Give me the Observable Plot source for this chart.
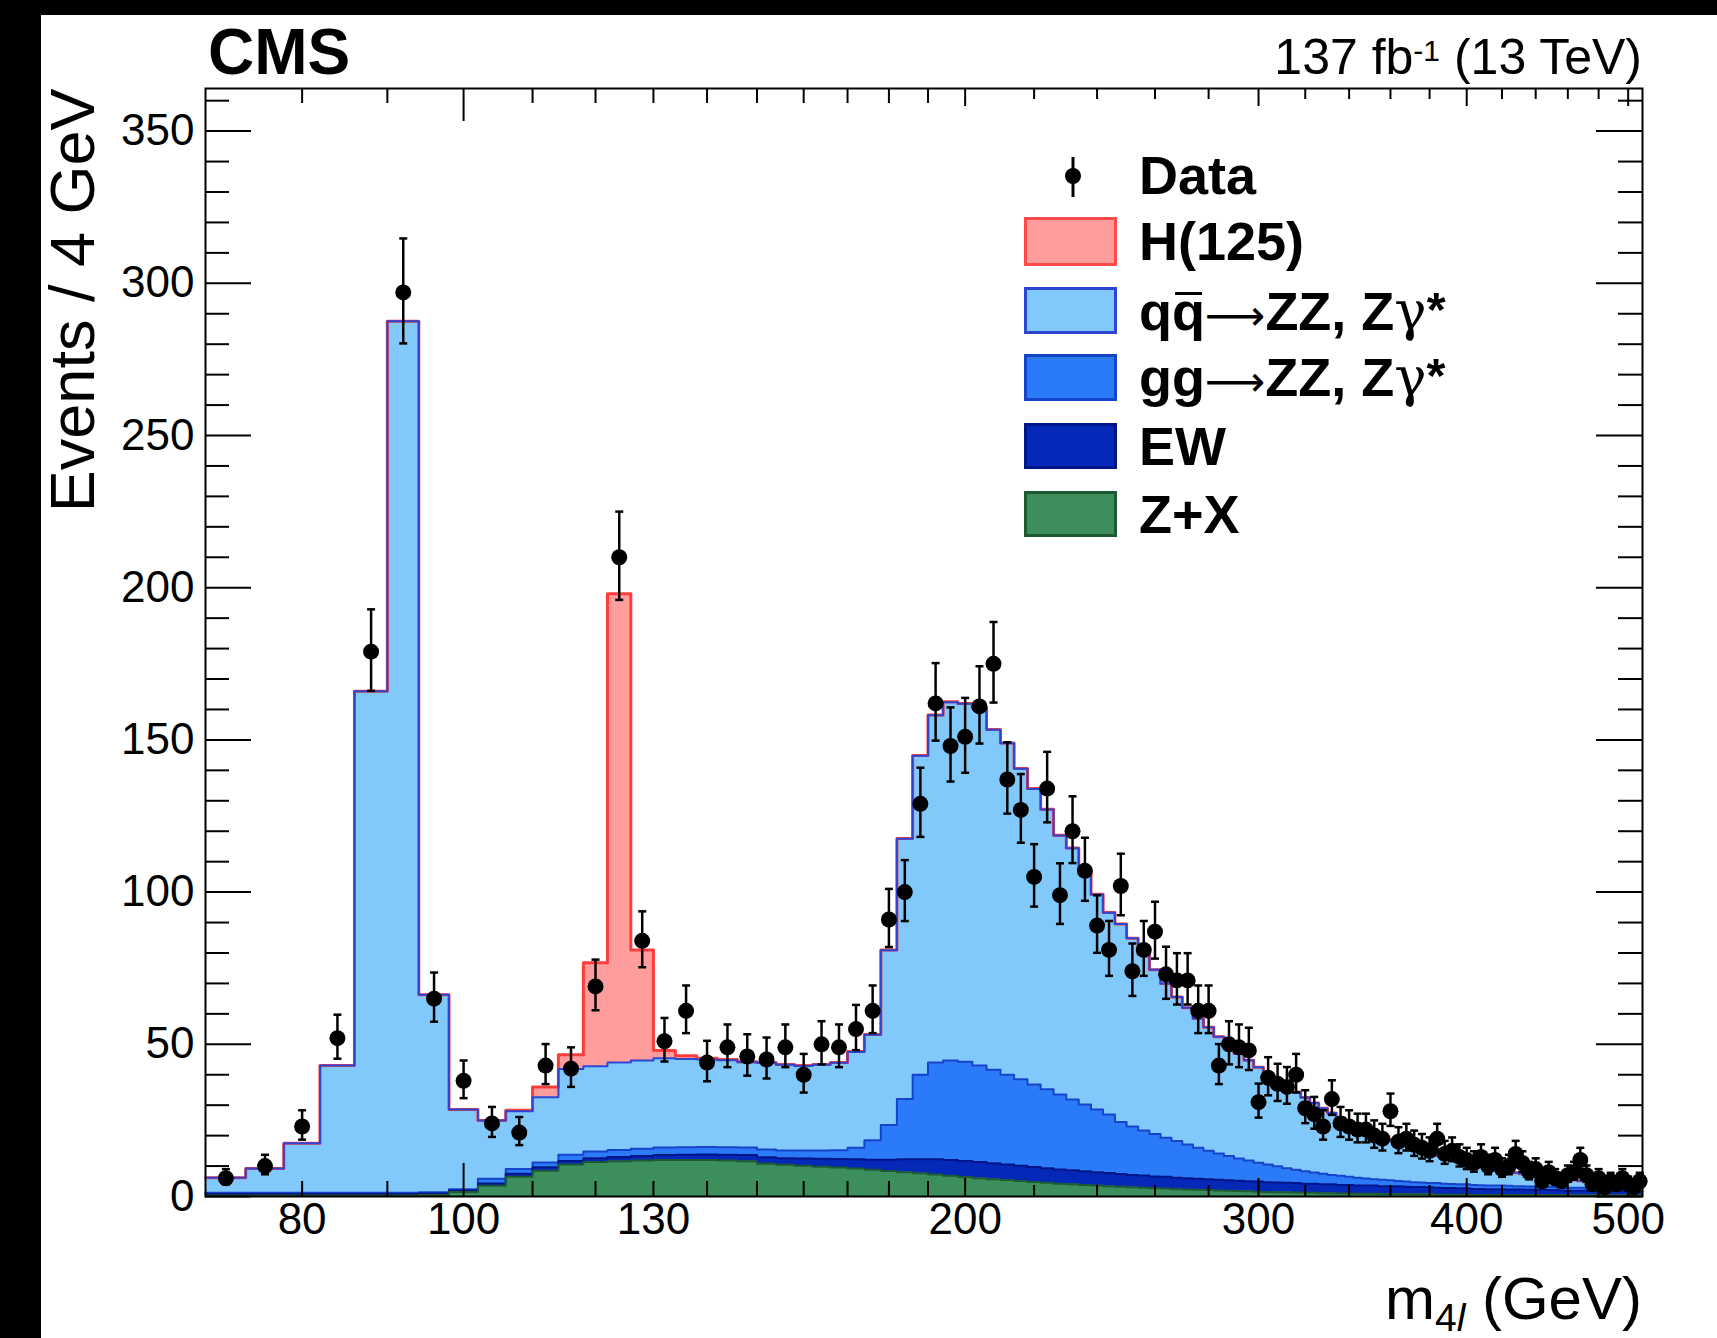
<!DOCTYPE html>
<html>
<head>
<meta charset="utf-8">
<script src="https://cdn.jsdelivr.net/npm/d3@7"></script>
<script src="https://cdn.jsdelivr.net/npm/@observablehq/plot@0.6"></script>
<style>
html,body{margin:0;padding:0;background:#000;width:1717px;height:1338px;overflow:hidden;}
#panel{position:absolute;left:41px;top:15px;width:1676px;height:1323px;background:#fff;}
#chart{position:absolute;left:0;top:0;}
.t{position:absolute;font-family:"Liberation Sans",Arial,Helvetica,sans-serif;color:#000;white-space:nowrap;line-height:1;}
.lg{font-weight:bold;font-size:54px;left:1098px;}
.box{position:absolute;left:983px;width:87px;border:3px solid;}
.bar{position:relative;}
.bar::after{content:"";position:absolute;left:10%;right:10%;top:0.2em;height:0.06em;background:#000;}
.arr{font-family:"DejaVu Sans",sans-serif;font-weight:normal;font-size:0.78em;}
.gam{font-family:"DejaVu Serif",serif;font-weight:normal;}
.ast{position:relative;top:-0.08em;font-size:0.9em;}
</style>
</head>
<body>
<div id="panel">
  <div id="chart"></div>
  <div class="t" style="left:167px;top:5px;font-size:64px;font-weight:bold;">CMS</div>
  <div class="t" style="right:75px;top:17px;font-size:50px;">137 fb<span style="position:relative;top:-0.45em;font-size:0.6em;">-1</span> (13 TeV)</div>
  <div class="t" style="right:75px;top:1254px;font-size:60px;">m<span style="position:relative;top:0.3em;font-size:0.65em;">4<i>l</i></span> (GeV)</div>

  <svg style="position:absolute;left:1017px;top:140px;" width="30" height="44">
    <line x1="15" y1="2" x2="15" y2="42" stroke="#000" stroke-width="3"/>
    <circle cx="15" cy="21" r="8" fill="#000"/>
  </svg>
  <div class="t lg" style="top:133px;">Data</div>
  <div class="box" style="top:202px;height:43px;background:#ff9c9c;border-color:#ff4a4a;"></div>
  <div class="t lg" style="top:199px;">H(125)</div>
  <div class="box" style="top:272px;height:41px;background:#82c9fb;border-color:#2c46d3;"></div>
  <div class="t lg" style="top:269px;">q<span class="bar">q</span><span class="arr">&#10230;</span>ZZ, Z<span class="gam">&#947;</span><span class="ast">*</span></div>
  <div class="box" style="top:339px;height:41px;background:#2b7af7;border-color:#1644c9;"></div>
  <div class="t lg" style="top:335px;">gg<span class="arr">&#10230;</span>ZZ, Z<span class="gam">&#947;</span><span class="ast">*</span></div>
  <div class="box" style="top:408px;height:40px;background:#0528b9;border-color:#00158a;"></div>
  <div class="t lg" style="top:404px;">EW</div>
  <div class="box" style="top:476px;height:40px;background:#3c8f5c;border-color:#1d5a33;"></div>
  <div class="t lg" style="top:472px;">Z+X</div>
</div>
<script>
// ---------- data ----------
const binLow = 70;      // GeV, lower edge of first bin
const binWidth = 4;     // GeV
const xDomain = [70, 510];
const yDomain = [0, 364];
const xTickLabels = [80, 100, 130, 200, 300, 400, 500];
const yTickLabels = [0, 50, 100, 150, 200, 250, 300, 350];
const yTitle = "Events / 4 GeV";

// observed events per 4 GeV bin
const dataCounts = [
  6,10,23,52,179,297,65,38,24,21,
  43,42,69,210,84,51,61,44,49,46,
  45,49,40,50,49,55,61,91,100,129,
  162,148,151,161,175,137,127,105,134,99,
  120,107,89,81,102,74,81,87,73,71,
  71,61,61,43,50,49,48,31,39,37,
  36,40,29,27,23,32,24,23,22,22,
  20,19,28,18,19,17,16,15,19,14,
  15,13,12,11,13,10,12,9,10,14,
  11,8,9,5,8,6,5,7,8,12,
  7,4,6,3,5,4,6,4,3,5
];

// stacked expectations, per bin (not cumulative)
const zPlusX = [
  0.3,0.3,0.3,0.3,0.3,0.3,0.5,1.5,3.5,6.5,
  8.5,10.5,11.3,11.6,11.8,12,12,12,11.8,11.6,
  10.8,10.4,10.1,9.8,9.5,9.2,8.8,8.4,8.0,7.6,
  7.2,6.8,6.4,6.0,5.7,5.4,5.1,4.8,4.5,4.2,
  4.0,3.8,3.6,3.4,3.2,3.0,2.9,2.7,2.6,2.4,
  2.3,2.2,2.1,2.0,1.9,1.8,1.7,1.6,1.5,1.4,
  1.4,1.3,1.2,1.2,1.1,1.1,1.0,1.0,0.9,0.9,
  0.9,0.8,0.8,0.8,0.7,0.7,0.7,0.7,0.6,0.6,
  0.6,0.6,0.6,0.5,0.5,0.5,0.5,0.5,0.5,0.5,
  0.5,0.5,0.5,0.5,0.5,0.5,0.4,0.4,0.4,0.4,
  0.4,0.4,0.4,0.4,0.4,0.4,0.4,0.4,0.4,0.4
];
const ewVals = [
  0.5,0.5,0.5,0.5,0.5,0.5,0.5,0.5,0.8,1.0,
  1.1,1.2,1.3,1.4,1.5,1.6,1.7,1.8,1.9,2.0,
  2.1,2.2,2.4,2.6,2.8,3.0,3.3,3.7,4.2,4.6,
  5.0,5.2,5.3,5.3,5.2,5.1,5.0,4.9,4.8,4.7,
  4.6,4.5,4.4,4.3,4.2,4.1,4.0,3.9,3.9,3.8,
  3.7,3.6,3.6,3.5,3.4,3.4,3.3,3.3,3.2,3.2,
  3.1,3.1,3.0,3.0,2.9,2.9,2.8,2.8,2.7,2.7,
  2.7,2.6,2.6,2.6,2.5,2.4,2.4,2.3,2.3,2.2,
  2.2,2.1,2.1,2.0,2.0,1.9,1.9,1.9,1.8,1.8,
  1.8,1.7,1.7,1.7,1.6,1.6,1.6,1.5,1.5,1.5,
  1.5,1.4,1.4,1.4,1.4,1.3,1.3,1.3,1.3,1.2
];
const ggZZ = [
  0.4,0.4,0.4,0.4,0.4,0.4,0.4,0.4,1.5,1.5,
  1.6,2.0,2.2,2.3,2.4,2.5,2.5,2.5,2.5,2.5,
  2.5,2.5,2.6,2.7,2.9,3.8,6.4,11.4,19.8,27.8,
  31.8,32.7,32.6,31.7,30.7,29.5,28.4,27.1,25.9,24.6,
  23.3,21.9,20.6,19.2,17.1,15.9,14.8,13.9,12.8,12.0,
  11.1,10.2,9.3,8.6,8.0,7.3,6.8,6.2,5.8,5.3,
  4.8,4.4,4.1,3.7,3.5,3.1,3.0,2.7,2.6,2.3,
  2.1,2.1,1.9,1.7,1.7,1.6,1.5,1.4,1.5,1.4,
  1.3,1.3,1.3,1.3,1.2,1.2,1.2,1.2,1.2,1.1,
  1.1,1.1,1.1,1.1,1.1,1.0,1.0,1.0,1.0,1.0,
  1.0,1.0,1.0,1.0,1.0,1.0,1.0,1.0,1.0,1.0
];
const qqZZ = [
  5.0,8.0,16.3,41.8,164.8,286.3,64.9,26.2,19.2,19.0,
  21.4,28.2,28.0,28.7,29.0,29.3,29.0,28.7,28.6,28.0,
  28.5,28.2,27.8,28.2,28.7,31.5,34.6,57.4,85.5,104.8,
  114.1,117.7,117.6,117.5,111.7,108.9,102.0,97.1,91.9,85.1,
  82.5,76.3,70.6,66.3,65.0,61.8,57.8,54.0,50.7,47.3,
  44.9,42.5,40.6,38.4,36.2,34.5,33.0,31.4,29.8,28.3,
  26.9,25.5,24.2,22.8,21.5,20.3,19.1,18.0,17.0,16.1,
  15.1,14.2,13.3,12.5,11.8,11.1,10.4,9.8,9.1,8.6,
  8.0,7.5,6.9,6.6,6.2,5.8,5.4,5.0,4.7,4.4,
  4.1,3.9,3.6,3.3,3.1,2.9,2.8,2.7,2.5,2.3,
  2.1,2.0,1.8,1.7,1.5,1.5,1.3,1.2,1.1,1.0
];
const h125 = [
  0,0,0,0,0,0,0,0,0,0.3,
  3.4,4.7,34,154,36.3,2.6,1.0,0.4,0.2,0.2,
  0.1,0.1,0.1,0.1,0.1,0.1,0.1,0.1,0.1,0.1,
  0.1,0.1,0.1,0.1,0.1,0.1,0.1,0.1,0.1,0.1,
  0.1,0.1,0.1,0.1,0,0,0,0,0,0,
  0,0,0,0,0,0,0,0,0,0,
  0,0,0,0,0,0,0,0,0,0,
  0,0,0,0,0,0,0,0,0,0,
  0,0,0,0,0,0,0,0,0,0,
  0,0,0,0,0,0,0,0,0,0,
  0,0,0,0,0,0,0,0,0,0
];

const compNames  = ["Z+X", "EW", "gg\u2192ZZ, Z\u03b3*", "qq\u0304\u2192ZZ, Z\u03b3*", "H(125)"];
const compValues = [zPlusX, ewVals, ggZZ, qqZZ, h125];
const compFill   = ["#3c8f5c", "#0528b9", "#2b7af7", "#82c9fb", "#ff9c9c"];
const compStroke = ["#1d5a33", "#00158a", "#1644c9", "#2c46d3", "#ff3c3c"];

// ---------- derived tables ----------
const nBins = dataCounts.length;
const cum = new Array(nBins).fill(0);
const stackRows = [];
compNames.forEach((name, ci) => {
  const vals = compValues[ci];
  for (let k = 0; k <= nBins; k++) {
    const kk = Math.min(k, nBins - 1);
    stackRows.push({comp: name, ci, x: binLow + k * binWidth, y1: cum[kk], y2: cum[kk] + vals[kk]});
  }
  for (let k = 0; k < nBins; k++) cum[k] += vals[k];
});

const dataRows = dataCounts.map((n, k) => {
  const s = Math.sqrt(n + 0.25);
  return {x: binLow + k * binWidth + binWidth / 2, n, lo: n - s + 0.5, hi: n + s + 0.5};
});

const yMinor = d3.range(10, 361, 10).filter(v => v % 50 !== 0);
const xLong = [100];
const xMid = [200, 300, 400, 500];
const xShort = [80, 90, 110, 120, 130, 140, 150, 160, 170, 180, 190];
const xTiny = [220, 240, 260, 280, 320, 340, 360, 380, 420, 440, 460, 480];

const W = 1676, H = 1323, mL = 164, mR = 75, mT = 73, mB = 142;
const fw = W - mL - mR, fh = H - mT - mB;

const capSymbol = {draw(ctx, size) { const r = Math.sqrt(size / Math.PI); ctx.moveTo(-r, 0); ctx.lineTo(r, 0); }};

function yTicks(vals, len) {
  return [
    Plot.ruleY(vals, {stroke: "#000", strokeWidth: 2, insetRight: fw - len}),
    Plot.ruleY(vals, {stroke: "#000", strokeWidth: 2, insetLeft: fw - len})
  ];
}
function xTicks(vals, len) {
  return [
    Plot.ruleX(vals, {stroke: "#000", strokeWidth: 2, insetTop: fh - len}),
    Plot.ruleX(vals, {stroke: "#000", strokeWidth: 2, insetBottom: fh - len})
  ];
}

const outlines = compNames.map((name, ci) =>
  Plot.line(stackRows.filter(r => r.ci === ci), {
    x: "x", y: "y2", curve: "step-after",
    stroke: compStroke[ci], strokeWidth: ci === 4 ? 3 : 2
  })
).reverse();

const chart = Plot.plot({
  width: W, height: H,
  marginLeft: mL, marginRight: mR, marginTop: mT, marginBottom: mB,
  style: {fontFamily: '"Liberation Sans", Arial, Helvetica, sans-serif', fontSize: "44px", color: "#000", background: "transparent", overflow: "visible"},
  x: {type: "log", domain: xDomain},
  y: {domain: yDomain},
  color: {domain: compNames, range: compFill},
  marks: [
    Plot.areaY(stackRows, {x: "x", y1: "y1", y2: "y2", z: "comp", fill: "comp", curve: "step-after"}),
    ...outlines,
    Plot.ruleX(dataRows, {x: "x", y1: "lo", y2: "hi", stroke: "#000", strokeWidth: 2.5}),
    Plot.dot(dataRows, {x: "x", y: "lo", symbol: capSymbol, r: 4, stroke: "#000", strokeWidth: 2.5}),
    Plot.dot(dataRows, {x: "x", y: "hi", symbol: capSymbol, r: 4, stroke: "#000", strokeWidth: 2.5}),
    Plot.dot(dataRows, {x: "x", y: "n", r: 8, fill: "#000", stroke: "none"}),
    ...yTicks(yTickLabels, 46),
    ...yTicks(yMinor, 24),
    ...xTicks(xLong, 33),
    ...xTicks(xMid, 18),
    ...xTicks(xShort, 15),
    ...xTicks(xTiny, 11),
    Plot.axisY(yTickLabels, {tickSize: 0, tickPadding: 11, label: null, fontSize: 44}),
    Plot.axisX(xTickLabels, {tickSize: 0, tickPadding: 6, label: null, fontSize: 44, tickFormat: d => String(d)}),
    Plot.text([yTitle], {frameAnchor: "top-left", rotate: -90, textAnchor: "end", lineAnchor: "bottom", dx: -112, fontSize: 63, fill: "#000"}),
    Plot.frame({stroke: "#000", strokeWidth: 2})
  ]
});
document.getElementById("chart").appendChild(chart);
</script>
</body>
</html>
